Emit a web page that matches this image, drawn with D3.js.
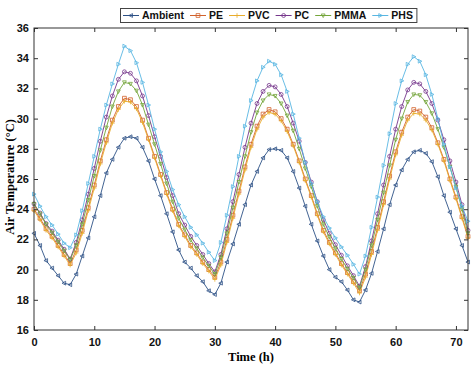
<!DOCTYPE html>
<html>
<head>
<meta charset="utf-8">
<script src="https://cdn.jsdelivr.net/npm/d3@7"></script>
<style>
  body { margin: 0; background: #fff; }
  svg { display: block; }
</style>
</head>
<body>
<div id="main"></div>
<script>
// hours 0..72
const hours = [0,1,2,3,4,5,6,7,8,9,10,11,12,13,14,15,16,17,18,19,20,21,22,23,24,
  25,26,27,28,29,30,31,32,33,34,35,36,37,38,39,40,41,42,43,44,45,46,47,48,
  49,50,51,52,53,54,55,56,57,58,59,60,61,62,63,64,65,66,67,68,69,70,71,72];

const ambient = [22.4,21.6,20.6,20.1,19.6,19.1,19.0,19.7,20.9,22.1,23.5,24.9,26.4,27.3,28.1,28.7,28.8,28.7,28.1,27.2,26.0,24.9,23.7,22.5,21.3,
  20.5,20.1,19.6,19.2,18.6,18.35,19.1,20.5,21.7,23.0,24.3,25.6,26.5,27.4,27.95,28.0,27.9,27.4,26.5,25.4,24.2,23.0,21.9,20.9,
  20.0,19.5,19.2,18.65,18.0,17.85,18.65,19.75,21.2,22.7,24.3,25.6,26.6,27.3,27.8,27.9,27.7,27.15,26.15,24.9,23.8,22.7,21.6,20.5];

const pe = [24.0,23.4,22.7,22.2,21.6,21.0,20.4,21.3,22.6,24.1,25.6,27.2,28.6,29.9,30.8,31.35,31.25,30.8,29.9,28.7,27.5,26.3,25.1,24.0,23.0,
  22.3,21.6,21.1,20.5,20.0,19.5,20.5,22.0,23.6,25.2,26.8,28.3,29.5,30.3,30.6,30.45,30.0,29.3,28.3,27.2,26.0,24.9,23.7,22.6,
  21.8,21.1,20.4,19.8,19.2,18.6,19.7,21.2,22.8,24.5,26.2,27.8,29.1,30.1,30.6,30.5,30.1,29.4,28.4,27.3,26.0,24.8,23.5,22.2];

const pvc = [23.9,23.3,22.6,22.1,21.5,20.9,20.3,21.1,22.4,23.9,25.4,27.0,28.4,29.7,30.6,31.15,31.1,30.65,29.75,28.6,27.4,26.2,25.0,23.9,22.9,
  22.2,21.5,21.0,20.4,19.9,19.35,20.3,21.8,23.4,25.0,26.6,28.1,29.3,30.1,30.4,30.3,29.85,29.15,28.2,27.1,25.9,24.8,23.6,22.5,
  21.7,21.0,20.3,19.7,19.1,18.45,19.5,21.0,22.6,24.3,26.0,27.6,28.9,29.9,30.35,30.3,29.9,29.25,28.3,27.2,25.9,24.7,23.4,22.1];

const pc = [24.35,23.75,23.05,22.55,21.95,21.35,20.7,21.8,23.3,25.0,26.7,28.5,30.1,31.5,32.6,33.1,33.0,32.5,31.5,30.2,28.8,27.5,26.1,24.9,23.7,
  22.95,22.2,21.6,21.0,20.4,19.85,21.0,22.7,24.5,26.3,28.1,29.7,31.0,31.8,32.2,32.1,31.6,30.8,29.7,28.5,27.1,25.8,24.5,23.3,
  22.4,21.65,20.95,20.25,19.6,18.9,20.2,21.9,23.7,25.6,27.5,29.3,30.8,31.9,32.4,32.3,31.8,31.0,29.9,28.6,27.2,25.8,24.3,22.6];

const pmma = [24.35,23.7,23.0,22.45,21.85,21.25,20.65,21.6,23.0,24.6,26.2,27.9,29.4,30.8,31.8,32.4,32.3,31.85,30.9,29.6,28.3,27.0,25.7,24.5,23.4,
  22.65,21.95,21.4,20.8,20.25,19.7,20.8,22.4,24.1,25.8,27.5,29.1,30.4,31.2,31.6,31.5,31.0,30.2,29.2,28.0,26.7,25.5,24.2,23.0,
  22.15,21.4,20.7,20.05,19.45,18.8,20.0,21.6,23.3,25.1,26.9,28.6,30.0,31.1,31.6,31.55,31.1,30.35,29.3,28.1,26.8,25.5,24.0,22.4];

const phs = [25.0,24.2,23.5,22.95,22.35,21.75,21.45,22.3,23.9,25.7,27.5,29.3,30.9,32.3,33.6,34.8,34.5,33.7,32.4,30.9,29.3,27.8,26.5,25.3,24.3,
  23.5,22.8,22.3,21.75,21.15,20.6,21.8,23.6,25.5,27.5,29.5,31.2,32.5,33.4,33.8,33.6,32.9,31.8,30.3,28.7,27.1,25.7,24.5,23.5,
  22.75,22.1,21.5,20.95,20.35,19.7,20.9,22.8,24.8,26.9,29.0,31.0,32.5,33.6,34.1,33.8,32.9,31.6,30.0,28.3,26.8,25.4,24.2,23.2];

const seriesNames = ["Ambient", "PE", "PVC", "PC", "PMMA", "PHS"];
const xTicks = [0, 10, 20, 30, 40, 50, 60, 70];
const yTicks = [16, 18, 20, 22, 24, 26, 28, 30, 32, 34, 36];

const series = [
  { name: "Ambient", values: ambient, color: "#2d5186", shape: "triLeft" },
  { name: "PE", values: pe, color: "#d2622c", shape: "square" },
  { name: "PVC", values: pvc, color: "#e9ad2c", shape: "plus" },
  { name: "PC", values: pc, color: "#76378c", shape: "circle" },
  { name: "PMMA", values: pmma, color: "#74a53a", shape: "triDown" },
  { name: "PHS", values: phs, color: "#58b6e2", shape: "triRight" }
];

const W = 474, H = 371;
const margin = { top: 28, right: 6, bottom: 41, left: 34 };
const width = W - margin.left - margin.right;
const height = H - margin.top - margin.bottom;

const svg = d3.select("#main").append("svg")
  .attr("width", W)
  .attr("height", H);

const x = d3.scaleLinear().domain([0, 72]).range([0, width]);
const y = d3.scaleLinear().domain([16, 36]).range([height, 0]);

const g = svg.append("g")
  .attr("transform", `translate(${margin.left},${margin.top})`);

// small open markers, MATLAB style
function markerPath(shape) {
  const r = 1.9;
  switch (shape) {
    case "square": return `M${-r},${-r}h${2*r}v${2*r}h${-2*r}Z`;
    case "plus": return `M${-r-0.4},0h${2*r+0.8}M0,${-r-0.4}v${2*r+0.8}`;
    case "circle": return d3.symbol(d3.symbolCircle, 12)();
    case "triDown": return `M${-r},${-r*0.8}L${r},${-r*0.8}L0,${r*1.1}Z`;
    case "triRight": return `M${-r*0.8},${-r}L${r*1.1},0L${-r*0.8},${r}Z`;
    default: return `M${r*0.8},${-r}L${-r*1.1},0L${r*0.8},${r}Z`;
  }
}

const line = d3.line()
  .x((d, i) => x(hours[i]))
  .y(d => y(d));

series.forEach(s => {
  g.append("path")
    .datum(s.values)
    .attr("fill", "none")
    .attr("stroke", s.color)
    .attr("stroke-width", 0.9)
    .attr("d", line);

  g.selectAll(null)
    .data(s.values)
    .join("path")
    .attr("transform", (d, i) => `translate(${x(hours[i])},${y(d)})`)
    .attr("d", markerPath(s.shape))
    .attr("fill", "none")
    .attr("stroke", s.color)
    .attr("stroke-width", 0.8);
});

// axes
const axisColor = "#333";
const fontSans = "'Liberation Sans', Arial, sans-serif";
const fontSerif = "'Liberation Serif', 'Times New Roman', serif";

const xAxis = g.append("g")
  .attr("transform", `translate(0,${height})`)
  .call(d3.axisBottom(x).tickValues(xTicks).tickSizeInner(-4).tickSizeOuter(0).tickPadding(8));
const yAxis = g.append("g")
  .call(d3.axisLeft(y).tickValues(yTicks).tickSizeInner(-4).tickSizeOuter(0).tickPadding(5));
const xTop = g.append("g")
  .call(d3.axisTop(x).tickValues(xTicks).tickSizeInner(-4).tickSizeOuter(0).tickFormat(""));
const yRight = g.append("g")
  .attr("transform", `translate(${width},0)`)
  .call(d3.axisRight(y).tickValues(yTicks).tickSizeInner(-4).tickSizeOuter(0).tickFormat(""));

[xAxis, yAxis, xTop, yRight].forEach(a => {
  a.selectAll(".domain").remove();
  a.selectAll("line").attr("stroke", axisColor);
  a.selectAll("text")
    .style("font-family", fontSans)
    .style("font-weight", "bold")
    .style("font-size", "11px")
    .attr("fill", "#111");
});

g.append("rect")
  .attr("width", width)
  .attr("height", height)
  .attr("fill", "none")
  .attr("stroke", axisColor)
  .attr("stroke-width", 1);

// axis titles
svg.append("text")
  .attr("x", margin.left + width / 2)
  .attr("y", 361)
  .attr("text-anchor", "middle")
  .style("font-family", fontSerif)
  .style("font-weight", "bold")
  .style("font-size", "12.5px")
  .text("Time (h)");

svg.append("text")
  .attr("transform", `translate(14,${margin.top + height / 2 - 2}) rotate(-90)`)
  .attr("text-anchor", "middle")
  .style("font-family", fontSerif)
  .style("font-weight", "bold")
  .style("font-size", "12.5px")
  .text("Air Temperature (°C)");

// legend: items laid out one after another
const legend = svg.append("g");
const box = legend.append("rect")
  .attr("x", 120.5).attr("y", 8.5)
  .attr("height", 14)
  .attr("fill", "#fff")
  .attr("stroke", "#444")
  .attr("stroke-width", 1);

let cursor = 123;
series.forEach((s, i) => {
  const item = legend.append("g").attr("transform", `translate(${cursor},15.5)`);
  item.append("line")
    .attr("x1", 0).attr("x2", 16)
    .attr("stroke", s.color).attr("stroke-width", 1);
  item.append("path")
    .attr("transform", "translate(8,0)")
    .attr("d", markerPath(s.shape))
    .attr("fill", "none")
    .attr("stroke", s.color)
    .attr("stroke-width", 0.8);
  const t = item.append("text")
    .attr("x", 19)
    .attr("dy", "0.36em")
    .style("font-family", fontSans)
    .style("font-weight", "bold")
    .style("font-size", "10.5px")
    .attr("fill", "#111")
    .text(seriesNames[i]);
  cursor += 19 + t.node().getComputedTextLength() + 6;
});
box.attr("width", cursor - 120.5 - 2);
</script>
</body>
</html>
